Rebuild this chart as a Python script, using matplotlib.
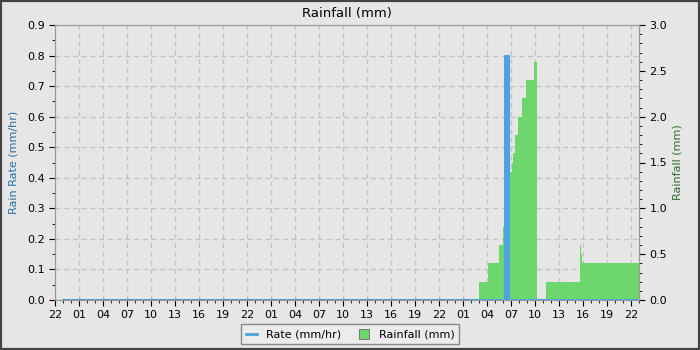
import matplotlib
matplotlib.use("Agg")
import matplotlib.pyplot as plt
from matplotlib.lines import Line2D
from matplotlib.patches import Rectangle
from matplotlib.ticker import MultipleLocator

# hours since 22:00 on the first day
rate_t = [1.0, 56.25, 56.25, 56.75, 56.75, 73.0]
rate_v = [0.0, 0.0, 0.8, 0.8, 0.0, 0.0]

rain_t = [0.0, 53.0, 54.1, 55.5, 56.0, 56.25, 56.75, 56.9, 57.1, 57.25, 57.5,
          57.9, 58.4, 58.9, 59.9, 60.25, 61.4, 65.6, 65.75, 65.9, 73.0]
rain_v = [0.0, 0.2, 0.4, 0.6, 0.8, 1.0, 1.2, 1.4, 1.5, 1.6, 1.8,
          2.0, 2.2, 2.4, 2.6, 0.0, 0.2, 0.6, 0.5, 0.4, 0.4]

tick_labels = ["22", "01", "04", "07", "10", "13", "16", "19"] * 3 + ["22"]

bg = "#e6e6e6"
blue = "#4ca3dd"
green = "#6dd66d"

fig = plt.figure(figsize=(7, 3.5), dpi=100, facecolor=bg)
ax1 = fig.add_axes([55 / 700, 50 / 350, 584 / 700, 275 / 350])
ax1.set_facecolor(bg)
ax2 = ax1.twinx()

# left axis: rain rate
ax1.set_xlim(0, 73)
ax1.set_ylim(0, 0.9)
ax1.yaxis.set_major_locator(MultipleLocator(0.1))
ax1.yaxis.set_minor_locator(MultipleLocator(0.05))
ax1.xaxis.set_minor_locator(MultipleLocator(1))
ax1.set_xticks(range(0, 73, 3))
ax1.set_xticklabels(tick_labels)
ax1.grid(True, which="major", color="#c2c2c2", linestyle=(0, (4, 3)), linewidth=0.9)
ax1.set_axisbelow(True)
ax1.set_ylabel("Rain Rate (mm/hr)", color="#1f6fa8", fontsize=8, labelpad=6)

# right axis: rainfall
ax2.set_ylim(0, 3.0)
ax2.yaxis.set_major_locator(MultipleLocator(0.5))
ax2.yaxis.set_minor_locator(MultipleLocator(0.1))
ax2.set_ylabel("Rainfall (mm)", color="#2d6e2d", fontsize=8)

ax2.fill_between(rain_t, rain_v, step="post", color=green, linewidth=0, zorder=2)
# rate drawn on top of the rainfall, using the left axis scale
ax2.plot(rate_t, rate_v, color=blue, linewidth=1.5, transform=ax1.transData, zorder=3)
ax2.fill_between(rate_t, rate_v, color=blue, linewidth=0, transform=ax1.transData, zorder=3)
ax2.set_xlim(0, 73)

for ax in (ax1, ax2):
    ax.tick_params(axis="both", which="major", labelsize=8, length=4, color="black")
    ax.tick_params(axis="both", which="minor", length=2.5, color="black")
    for s in ax.spines.values():
        s.set_color("#999999")

ax1.set_title("Rainfall (mm)", fontsize=9.5, pad=6)

handles = [
    Line2D([], [], color=blue, linewidth=2),
    Line2D([], [], linestyle="none", marker="s", markersize=7,
           markerfacecolor=green, markeredgecolor="#666666", markeredgewidth=0.6),
]
fig.legend(handles, ["Rate (mm/hr)", "Rainfall (mm)"], loc="lower center",
           bbox_to_anchor=(0.5, 0.0), ncol=2, fontsize=8, fancybox=False,
           edgecolor="#888888", facecolor="#ececec", framealpha=1,
           handlelength=1.0, handletextpad=0.8, columnspacing=1.6, borderpad=0.45)

fig.patches.append(Rectangle((0, 0), 1, 1, transform=fig.transFigure,
                             fill=False, edgecolor="#444444", linewidth=3))

fig.savefig("out.png", dpi=100, facecolor=bg)
